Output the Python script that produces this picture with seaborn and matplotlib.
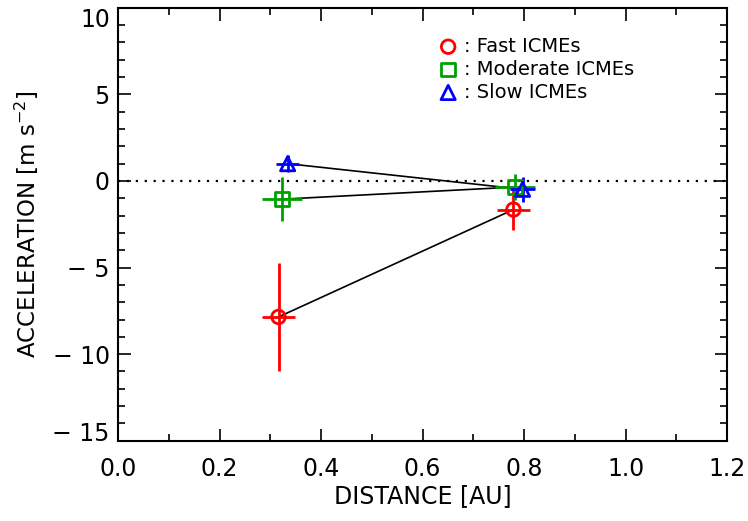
import matplotlib
matplotlib.use('Agg')

import numpy as np
import pandas as pd
import matplotlib.pyplot as plt
from matplotlib.ticker import MultipleLocator
import seaborn as sns

# 数据
groups = ["Fast ICMEs", "Moderate ICMEs", "Slow ICMEs"]
distance = {
    "Fast ICMEs": [0.316, 0.779],
    "Moderate ICMEs": [0.323, 0.782],
    "Slow ICMEs": [0.334, 0.797],
}
dist_err = {
    "Fast ICMEs": [0.032, 0.032],
    "Moderate ICMEs": [0.039, 0.040],
    "Slow ICMEs": [0.023, 0.024],
}
accel = {
    "Fast ICMEs": [-7.85, -1.65],
    "Moderate ICMEs": [-1.05, -0.35],
    "Slow ICMEs": [1.0, -0.48],
}
accel_err = {
    "Fast ICMEs": [3.1, 1.2],
    "Moderate ICMEs": [1.27, 0.77],
    "Slow ICMEs": [0.5, 0.72],
}

colors = {"Fast ICMEs": "#ff0000", "Moderate ICMEs": "#00a000", "Slow ICMEs": "#0000ff"}
markers = {"Fast ICMEs": "o", "Moderate ICMEs": "s", "Slow ICMEs": "^"}
msizes = {"Fast ICMEs": 95, "Moderate ICMEs": 95, "Slow ICMEs": 105}

sns.set_style("ticks")
plt.rcParams['font.family'] = ['DejaVu Sans']
plt.rcParams['text.color'] = 'black'
plt.rcParams['axes.labelcolor'] = 'black'

fig = plt.figure(figsize=(7.48, 5.21), dpi=100)
ax = fig.add_axes([0.158, 0.154, 0.814, 0.831])

ax.axhline(0, color='black', linestyle=(0, (1, 3)), linewidth=1.6, zorder=1)

rows = []
for g in groups:
    for x, y in zip(distance[g], accel[g]):
        rows.append({"group": g, "distance": x, "accel": y})
df = pd.DataFrame(rows)

# 连线
for g in groups:
    sub = df[df["group"] == g]
    sns.lineplot(data=sub, x="distance", y="accel", color='black', linewidth=1.2,
                 sort=False, estimator=None, ax=ax, zorder=2)

# 误差棒与空心标记
handles = []
for g in groups:
    ax.errorbar(distance[g], accel[g], xerr=dist_err[g], yerr=accel_err[g],
                fmt='none', ecolor=colors[g], elinewidth=2, capsize=0, zorder=3)
    h = ax.scatter(distance[g], accel[g], marker=markers[g], s=msizes[g],
                   facecolors='none', edgecolors=colors[g], linewidths=2, zorder=4,
                   label=": " + g)
    handles.append(h)

ax.set_xlim(0, 1.2)
ax.set_ylim(-15, 10)
ax.xaxis.set_major_locator(MultipleLocator(0.2))
ax.xaxis.set_minor_locator(MultipleLocator(0.1))
ax.yaxis.set_major_locator(MultipleLocator(5))
ax.yaxis.set_minor_locator(MultipleLocator(1))
ax.xaxis.set_major_formatter(plt.FuncFormatter(lambda v, p: f"{v:.1f}"))
ax.yaxis.set_major_formatter(plt.FuncFormatter(lambda v, p: f"{v:.0f}".replace('-', '\u2212 ')))

ax.tick_params(which='both', direction='in', top=True, right=True, width=1.2, colors='black')
ax.tick_params(which='major', length=9, labelsize=17)
ax.tick_params(axis='x', which='major', pad=12)
ax.tick_params(axis='y', which='major', pad=6)
ax.tick_params(which='minor', length=5)
for s in ax.spines.values():
    s.set_linewidth(1.5)
    s.set_color('black')

ax.set_xlabel('DISTANCE [AU]', fontsize=17, labelpad=2)
ax.set_ylabel('ACCELERATION [m s$^{-2}$]', fontsize=16.5, labelpad=8)

ax.legend(handles=handles, loc='upper left', bbox_to_anchor=(0.526, 0.933), frameon=False,
          fontsize=14, handlelength=1.0, handletextpad=0.3, labelspacing=0.2,
          borderpad=0, borderaxespad=0)

# 首尾刻度标签向内收，避免顶端被裁
fig.canvas.draw()
yticks = ax.yaxis.get_major_ticks()
for t in yticks:
    if t.get_loc() >= 10:
        t.label1.set_va('top')
    elif t.get_loc() <= -15:
        t.label1.set_va('baseline')

plt.savefig('out.png', dpi=100)
plt.close()
